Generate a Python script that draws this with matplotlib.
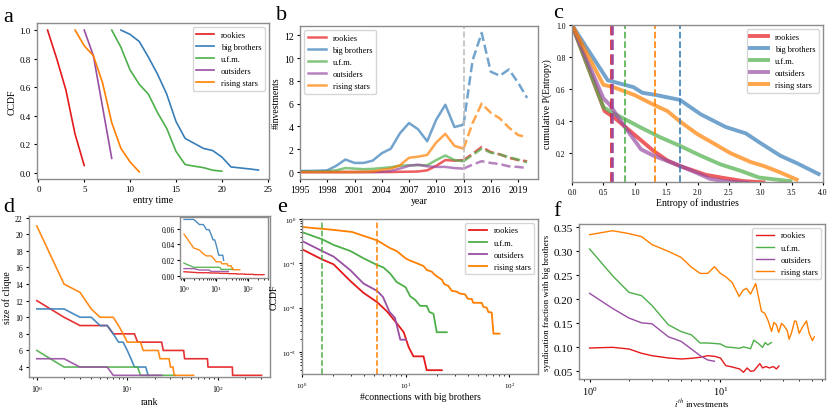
import numpy as np
import matplotlib
matplotlib.use('Agg')
import matplotlib.pyplot as plt

plt.rcParams['font.family'] = ['Liberation Serif', 'DejaVu Serif']
plt.rcParams['mathtext.fontset'] = 'stix'
plt.rcParams['axes.edgecolor'] = '0.55'
plt.rcParams['axes.linewidth'] = 1.0

# colours (Set1)
C = {'rookies': '#e41a1c', 'big brothers': '#377eb8', 'u.f.m.': '#4daf4a',
     'outsiders': '#984ea3', 'rising stars': '#ff7f00'}
groups = ['rookies', 'big brothers', 'u.f.m.', 'outsiders', 'rising stars']
groups4 = ['rookies', 'u.f.m.', 'outsiders', 'rising stars']

# ---- a: entry time CCDF
a_x = {
    'rookies': [1, 2, 3, 4, 5],
    'big brothers': [9, 10, 11, 12, 13, 14, 15, 16, 17, 18, 19, 20, 21, 22, 23, 24],
    'u.f.m.': [8, 9, 10, 11, 12, 13, 14, 15, 16, 17, 18, 19, 20],
    'outsiders': [5, 6, 7, 8],
    'rising stars': [4, 5, 6, 7, 8, 9, 10, 11],
}
a_y = {
    'rookies': [1.0, 0.8, 0.58, 0.27, 0.05],
    'big brothers': [1.0, 0.97, 0.92, 0.81, 0.69, 0.55, 0.36, 0.24, 0.205, 0.17, 0.155,
                     0.11, 0.04, 0.033, 0.026, 0.018],
    'u.f.m.': [1.0, 0.88, 0.72, 0.62, 0.55, 0.42, 0.31, 0.15, 0.057, 0.045, 0.035, 0.017, 0.01],
    'outsiders': [1.0, 0.82, 0.46, 0.1],
    'rising stars': [1.0, 0.89, 0.82, 0.63, 0.35, 0.17, 0.075, 0.005],
}

# ---- b: investments per year (2013 onward dashed)
years = list(range(1995, 2021))
b_y = {
    'rookies': [0, 0, 0, 0, 0, 0, 0, 0, 0, 0, 0, 0.02, 0.03, 0.05, 0.15, 0.55, 1.05, 1.0, 1.05,
                1.6, 2.2, 1.75, 1.55, 1.25, 1.05, 0.95],
    'big brothers': [0.1, 0.1, 0.12, 0.15, 0.55, 1.1, 0.8, 0.8, 1.0, 1.65, 2.05, 3.4, 4.3, 3.75,
                     2.7, 4.6, 5.9, 3.95, 4.15, 9.8, 12.2, 8.8, 8.45, 9.0, 7.85, 6.5],
    'u.f.m.': [0.05, 0.05, 0.05, 0.08, 0.15, 0.35, 0.3, 0.25, 0.28, 0.35, 0.42, 0.55, 0.6,
               0.6, 0.6, 1.05, 1.45, 1.05, 0.95, 1.5, 2.05, 1.7, 1.55, 1.3, 1.1, 0.85],
    'outsiders': [0, 0, 0, 0, 0, 0, 0, 0, 0, 0.02, 0.1, 0.3, 0.55, 0.65, 0.5, 0.45, 0.45, 0.35,
                  0.3, 0.65, 0.95, 0.8, 0.7, 0.5, 0.45, 0.35],
    'rising stars': [0, 0, 0, 0, 0, 0, 0, 0.02, 0.05, 0.2, 0.3, 0.6, 1.25, 1.35, 1.5, 2.6, 3.35,
                     2.3, 2.05, 4.3, 6.0, 5.2, 4.7, 3.9, 3.25, 3.05],
}
split_year = 2013

# ---- c: entropy of industries
c_x = {
    'rookies': [0, 0.52, 0.67, 0.85, 1.06, 1.3, 1.52, 1.72, 1.91, 2.13, 2.42, 2.74, 3.05],
    'big brothers': [0, 0.57, 0.98, 1.12, 1.35, 1.72, 2.05, 2.45, 2.77, 3.0, 3.32, 3.6, 3.93],
    'u.f.m.': [0, 0.5, 0.64, 0.84, 1.08, 1.41, 1.73, 2.05, 2.37, 2.69, 2.98, 3.48],
    'outsiders': [0, 0.5, 0.6, 0.88, 1.1, 1.3, 1.73, 2.0, 2.2, 2.42, 2.8],
    'rising stars': [0, 0.5, 0.66, 1.0, 1.3, 1.52, 1.72, 2.0, 2.2, 2.53, 2.85, 3.06, 3.32, 3.58],
}
c_y = {
    'rookies': [1.0, 0.46, 0.42, 0.36, 0.29, 0.21, 0.15, 0.115, 0.09, 0.06, 0.04, 0.02, 0.013],
    'big brothers': [1.0, 0.653, 0.61, 0.575, 0.56, 0.53, 0.44, 0.36, 0.32, 0.26, 0.18, 0.13, 0.065],
    'u.f.m.': [1.0, 0.485, 0.45, 0.41, 0.36, 0.295, 0.24, 0.18, 0.125, 0.085, 0.043, 0.02],
    'outsiders': [1.0, 0.54, 0.5, 0.34, 0.22, 0.18, 0.115, 0.07, 0.035, 0.02, 0.01],
    'rising stars': [1.0, 0.625, 0.61, 0.56, 0.50, 0.46, 0.395, 0.315, 0.27, 0.195, 0.14, 0.115,
                     0.075, 0.03],
}
c_mean = {'rookies': 0.62, 'outsiders': 0.645, 'u.f.m.': 0.845, 'rising stars': 1.325,
          'big brothers': 1.725}

# ---- d: clique sizes (size -> number of cliques)
d_sizes = {
    'rookies': [12, 10, 9, 8, 7, 6, 5, 4, 3],
    'big brothers': [11, 10, 9, 8, 7, 6, 5, 4, 3],
    'u.f.m.': [6, 4, 3],
    'outsiders': [5, 4, 3],
    'rising stars': [21, 14, 13, 11, 10, 9, 8, 7, 6, 5, 4, 3],
}
d_counts = {
    'rookies': [1, 1, 4, 6, 12, 18, 35, 68, 160],
    'big brothers': [2, 2, 2, 1, 2, 1, 1, 5, 1],
    'u.f.m.': [1, 12, 21],
    'outsiders': [2, 4, 18],
    'rising stars': [1, 1, 1, 1, 3, 1, 1, 5, 8, 7, 3, 22],
}
group_size = {'rookies': 2400, 'big brothers': 153, 'u.f.m.': 375, 'outsiders': 555,
              'rising stars': 396}

# ---- e: connections with big brothers CCDF
e_x = {
    'rookies': [1, 1.56, 2.02, 2.93, 3.93, 5.3, 6.6, 8.2, 9.6, 10.7, 11.9, 14.9, 16, 22.4],
    'u.f.m.': [1, 1.56, 2.02, 2.93, 3.93, 5.3, 6.1, 7.1, 8.2, 10, 11.1, 12.4, 13.8, 16, 17,
               18.6, 20, 25],
    'outsiders': [1, 1.56, 2.02, 2.93, 3.93, 5.3, 6.05, 7, 7.9, 8.9, 10.1],
    'rising stars': [1, 2, 3.04, 5.3, 7.1, 8.2, 10, 11.1, 12.4, 14.9, 16, 17.9, 19, 20.8, 22.4,
                     23.6, 25.9, 27.9, 31.3, 33, 37.6, 39.8, 43.6, 45, 54.4, 56.5, 60.8, 63,
                     67.9, 70.6, 80.8],
}
e_y = {
    'rookies': [0.208, 0.123, 0.095, 0.040, 0.0216, 0.0134, 0.0083, 0.0045, 0.0028, 0.0013,
                0.0008, 0.0008, 0.00039, 0.00039],
    'u.f.m.': [0.506, 0.35, 0.26, 0.19, 0.13, 0.092, 0.081, 0.059, 0.038, 0.029, 0.018, 0.015,
               0.011, 0.011, 0.008, 0.0073, 0.0028, 0.0028],
    'outsiders': [0.32, 0.19, 0.142, 0.07, 0.035, 0.024, 0.0175, 0.008, 0.0059, 0.0019, 0.0019],
    'rising stars': [0.66, 0.57, 0.51, 0.33, 0.22, 0.19, 0.13, 0.115, 0.104, 0.087, 0.071,
                     0.065, 0.056, 0.048, 0.043, 0.034, 0.031, 0.024, 0.023, 0.021, 0.020,
                     0.016, 0.0157, 0.0129, 0.0129, 0.0104, 0.0100, 0.0080, 0.0078, 0.0026,
                     0.0026],
}
e_mean = {'u.f.m.': 1.56, 'rising stars': 5.3}

# ---- f: syndication fraction with big brothers
f_x_base = [1, 1.5, 2, 2.5, 3, 4, 5, 6, 7, 8, 9, 10, 11, 12, 14, 15, 16, 17]
f_x = {
    'rookies': f_x_base + [18, 20, 21, 22.3, 23.7, 25.3, 26.8, 28],
    'u.f.m.': f_x_base + [18, 19.5, 21, 22, 23, 24.5],
    'outsiders': f_x_base[:11],
    'rising stars': [1, 1.5, 2, 2.5, 3, 4, 5, 6, 7, 8, 9, 10, 11, 12.3, 13.9, 14.9, 15.8, 17,
                     18.6, 20.6, 21.8, 23.2, 24.6, 25.6, 26.8, 27.9, 29.3, 30.6, 32.4, 33.5,
                     35, 36.9, 38, 40, 42.3, 45.5, 47.8, 50.5, 52.2],
}
f_y = {
    'rookies': [0.0986, 0.100, 0.0965, 0.0875, 0.0826, 0.0778, 0.0757, 0.0771, 0.0792,
                0.0826, 0.0813, 0.0778, 0.0618, 0.0597, 0.055, 0.048, 0.057, 0.05, 0.051,
                0.066, 0.057, 0.06, 0.057, 0.06, 0.055, 0.061],
    'u.f.m.': [0.305, 0.249, 0.2146, 0.2076, 0.187, 0.147, 0.133, 0.126, 0.109, 0.109, 0.108,
               0.107, 0.101, 0.100, 0.098, 0.101, 0.099, 0.097, 0.115, 0.108, 0.100, 0.110,
               0.105, 0.110],
    'outsiders': [0.2125, 0.181, 0.161, 0.151, 0.149, 0.122, 0.1125, 0.0965, 0.0826, 0.0736,
                  0.071],
    'rising stars': [0.3347, 0.343, 0.337, 0.3306, 0.314, 0.30, 0.2875, 0.267, 0.254, 0.254,
                     0.268, 0.254, 0.247, 0.235, 0.206, 0.219, 0.223, 0.211, 0.233, 0.175,
                     0.171, 0.155, 0.133, 0.152, 0.147, 0.131, 0.150, 0.145, 0.135, 0.117,
                     0.131, 0.155, 0.154, 0.129, 0.142, 0.155, 0.128, 0.114, 0.122],
}

W, H = 830, 410
fig = plt.figure(figsize=(8.3, 4.1), dpi=100)


def box(l, t, r, b):
    return [l / W, 1 - b / H, (r - l) / W, (b - t) / H]


# panel a
ax = fig.add_axes(box(37, 24, 269, 180))
for g in groups:
    ax.plot(a_x[g], a_y[g], color=C[g], lw=1.2, label=g)
ax.set_xlabel('entry time', fontsize=7, labelpad=1)
ax.set_ylabel('CCDF', fontsize=7, labelpad=2)
ax.tick_params(labelsize=6.5, length=2.5, pad=2)
ax.set_xticks([0, 5, 10, 15, 20, 25])
ax.legend(loc='upper right', fontsize=6, handlelength=2.2)

# panel b
ax = fig.add_axes(box(300, 27, 538, 180))
i0 = years.index(split_year)
for g in groups:
    ax.plot(years[:i0 + 1], b_y[g][:i0 + 1], color=C[g], lw=1.8, alpha=0.7, label=g)
    ax.plot(years[i0:], b_y[g][i0:], color=C[g], lw=1.8, alpha=0.7, ls='--')
ax.axvline(split_year, color='0.75', ls='--', lw=1.2)
ax.set_xlim(1995, 2021.2)
ax.set_xticks(list(range(1995, 2020, 3)))
ax.set_xlabel('year', fontsize=7, labelpad=1)
ax.set_ylabel('#investments', fontsize=7, labelpad=2)
ax.tick_params(labelsize=7, length=2.5, pad=2)
ax.legend(loc='upper left', fontsize=6, handlelength=2.2)

# panel c
ax = fig.add_axes(box(572, 26, 823, 183))
for g in groups:
    ax.plot(c_x[g], c_y[g], color=C[g], lw=2.8, alpha=0.7, label=g)
for g in ['rookies', 'outsiders', 'u.f.m.', 'rising stars', 'big brothers']:
    ax.axvline(c_mean[g], color=C[g], ls='--', lw=1.3 if g not in ('rookies', 'outsiders') else 2,
               alpha=0.9)
ax.set_xlim(0, 4.0)
ax.set_ylim(0.015, 1.0)
ax.set_xticks(np.arange(0, 4.01, 0.5))
ax.set_yticks([0.2, 0.4, 0.6, 0.8, 1.0])
ax.set_xlabel('Entropy of industries', fontsize=7, labelpad=1)
ax.set_ylabel('cumulative P(Entropy)', fontsize=7, labelpad=3)
ax.tick_params(labelsize=5.5, length=2.5, pad=2)
ax.legend(loc='upper right', fontsize=6, handlelength=2.2)

# panel d
ax = fig.add_axes(box(29, 217, 270, 378))
ins = fig.add_axes(box(180, 218, 268, 279))
for g in groups:
    s = np.repeat(d_sizes[g], d_counts[g])
    rank = np.arange(1, len(s) + 1)
    ax.plot(rank, s, color=C[g], lw=1.2, alpha=0.9)
    ins.plot(rank, s / group_size[g], color=C[g], lw=1.0, alpha=0.9)
ax.set_xscale('log')
ax.set_xlim(0.82, 378)
ax.set_ylim(2.8, 22.2)
ax.set_yticks(range(4, 23, 2))
ax.set_xlabel('rank', fontsize=7, labelpad=2)
ax.set_ylabel('size of clique', fontsize=7, labelpad=2)
ax.tick_params(labelsize=5.5, length=2.5, pad=2)
ax.tick_params(which='minor', length=1.5)
ins.set_xscale('log')
ins.set_yticks([0.0, 0.02, 0.04, 0.06])
ins.set_ylim(-0.003, 0.075)
ins.tick_params(labelsize=5.5, length=2, pad=1.5)
ins.tick_params(which='minor', length=1.2)

# panel e
ax = fig.add_axes(box(302, 220, 538, 375))
for g in groups4:
    ax.plot(e_x[g], e_y[g], color=C[g], lw=1.3, label=g)
for g in ['u.f.m.', 'rising stars']:
    ax.axvline(e_mean[g], color=C[g], ls='--', lw=1.1)
ax.set_xscale('log')
ax.set_yscale('log')
ax.set_xlim(1, 190)
ax.set_ylim(3.2e-4, 1)
ax.set_xlabel('#connections with big brothers', fontsize=7, labelpad=2)
ax.set_ylabel('CCDF', fontsize=7, labelpad=2)
ax.tick_params(labelsize=5, length=2.5, pad=2)
ax.tick_params(which='minor', length=1.5)
ax.legend(loc='upper right', fontsize=6, handlelength=2.2)

# panel f
ax = fig.add_axes(box(579, 225, 825, 380))
for g in groups4:
    ax.plot(f_x[g], f_y[g], color=C[g], lw=1.0, label=g)
ax.set_xscale('log')
ax.set_xlim(0.83, 63)
ax.set_ylim(0.034, 0.357)
ax.set_yticks([0.05, 0.10, 0.15, 0.20, 0.25, 0.30, 0.35])
ax.set_xlabel(r'$i^{th}$ investments', fontsize=6.5, labelpad=0)
ax.set_ylabel('syndication fraction with big brothers', fontsize=6.5, labelpad=2)
ax.tick_params(axis='y', labelsize=8, length=2.5, pad=2)
ax.tick_params(axis='x', labelsize=7.5, length=2.5, pad=1.5)
ax.tick_params(which='minor', length=1.5)
ax.legend(loc='upper right', fontsize=6, handlelength=2.2)

# panel letters
for lab, x, y in [('a', 3, 22), ('b', 276, 20), ('c', 553, 18),
                  ('d', 3, 212), ('e', 277, 212), ('f', 553, 216)]:
    fig.text(x / W, 1 - y / H, lab, fontsize=16, va='baseline', ha='left')

fig.savefig('out.png', dpi=100)
